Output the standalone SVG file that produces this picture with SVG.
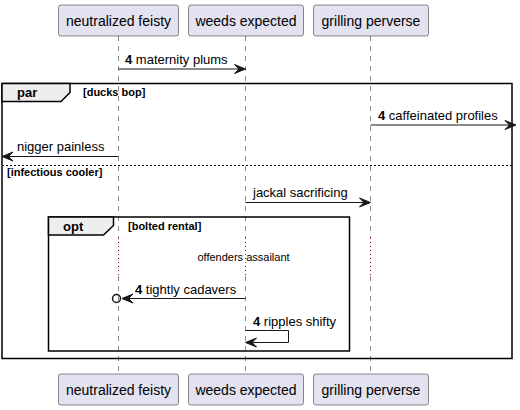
<svg xmlns="http://www.w3.org/2000/svg" width="520" height="410" viewBox="0 0 520 410">
<style>
text{font-family:"Liberation Sans",Arial,sans-serif;fill:#000}
.pbox{fill:#E2E2F0;stroke:#181818;stroke-width:0.5}
.ptxt{font-size:14px;text-anchor:middle}
.life{stroke:#181818;stroke-width:0.5;stroke-dasharray:5,5;fill:none}
.delay{stroke:#A80036;stroke-width:1;stroke-dasharray:1,3;fill:none}
.msg{stroke:#181818;stroke-width:1;fill:none}
.head{fill:#181818;stroke:#181818;stroke-width:1}
.mtxt{font-size:13px}
.frame{fill:none;stroke:#000;stroke-width:1.5}
.tab{fill:#EEEEEE;stroke:#000;stroke-width:1.5}
.ftitle{font-size:13px;font-weight:bold}
.fcond{font-size:11px;font-weight:bold}
</style>
<g id="lifelines">
<line class="life" x1="118.5" y1="36" x2="118.5" y2="238"/>
<line class="delay" x1="118.5" y1="238" x2="118.5" y2="276"/>
<line class="life" x1="118.5" y1="276" x2="118.5" y2="374"/>
<line class="life" x1="245.5" y1="36" x2="245.5" y2="238"/>
<line class="delay" x1="245.5" y1="238" x2="245.5" y2="276"/>
<line class="life" x1="245.5" y1="276" x2="245.5" y2="374"/>
<line class="life" x1="370.5" y1="36" x2="370.5" y2="238"/>
<line class="delay" x1="370.5" y1="238" x2="370.5" y2="276"/>
<line class="life" x1="370.5" y1="276" x2="370.5" y2="374"/>
</g>
<g id="p-neutralized-feisty">
<rect class="pbox" x="58.5" y="5" width="120" height="31" rx="2.5"/>
<text class="ptxt" x="118.5" y="25.5">neutralized feisty</text>
<rect class="pbox" x="58.5" y="374" width="120" height="31" rx="2.5"/>
<text class="ptxt" x="118.5" y="394.5">neutralized feisty</text>
</g>
<g id="p-weeds-expected">
<rect class="pbox" x="188.5" y="5" width="115" height="31" rx="2.5"/>
<text class="ptxt" x="246" y="25.5">weeds expected</text>
<rect class="pbox" x="188.5" y="374" width="115" height="31" rx="2.5"/>
<text class="ptxt" x="246" y="394.5">weeds expected</text>
</g>
<g id="p-grilling-perverse">
<rect class="pbox" x="313.5" y="5" width="115" height="31" rx="2.5"/>
<text class="ptxt" x="371" y="25.5">grilling perverse</text>
<rect class="pbox" x="313.5" y="374" width="115" height="31" rx="2.5"/>
<text class="ptxt" x="371" y="394.5">grilling perverse</text>
</g>
<g id="frame-par">
<rect class="frame" x="2" y="83.5" width="510" height="275"/>
<polygon class="tab" points="2,83.5 70,83.5 70,92.5 61,101.5 2,101.5"/>
<text class="ftitle" x="17" y="97">par</text>
<text class="fcond" x="83" y="96">[ducks bop]</text>
<line x1="2" y1="165.5" x2="512" y2="165.5" stroke="#000" stroke-width="1" stroke-dasharray="2,2"/>
<text class="fcond" x="7" y="175.5">[infectious cooler]</text>
</g>
<g id="frame-opt">
<rect class="frame" x="48.5" y="217" width="301" height="134"/>
<polygon class="tab" points="48.5,217 113.5,217 113.5,225.5 103.5,235 48.5,235"/>
<text class="ftitle" x="63" y="231">opt</text>
<text class="fcond" x="128" y="229.5">[bolted rental]</text>
</g>
<g id="delay">
<text x="243.5" y="260.5" font-size="11px" text-anchor="middle">offenders assailant</text>
</g>
<g id="connectors">
<line class="msg" x1="118.5" y1="69" x2="244.5" y2="69"/>
<polygon class="head" points="245.5,69 234.5,64.5 239,69 234.5,73.5"/>
<text class="mtxt" x="125" y="64"><tspan font-weight="bold">4</tspan> maternity plums</text>

<line class="msg" x1="370.5" y1="125" x2="515" y2="125"/>
<polygon class="head" points="516,125 505,120.5 509.5,125 505,129.5"/>
<text class="mtxt" x="378" y="120"><tspan font-weight="bold">4</tspan> caffeinated profiles</text>

<line class="msg" x1="118.5" y1="156.5" x2="3" y2="156.5"/>
<polygon class="head" points="2,156.5 13,152 8.5,156.5 13,161"/>
<text class="mtxt" x="17" y="151">nigger painless</text>

<line class="msg" x1="245.5" y1="202.5" x2="369.5" y2="202.5"/>
<polygon class="head" points="370.5,202.5 359.5,198 364,202.5 359.5,207"/>
<text class="mtxt" x="253" y="197">jackal sacrificing</text>

<line class="msg" x1="245.5" y1="298.5" x2="123" y2="298.5"/>
<polygon class="head" points="122,298.5 133,294 128.5,298.5 133,303"/>
<circle cx="116.5" cy="298.5" r="4" fill="none" stroke="#181818" stroke-width="1.5"/>
<text class="mtxt" x="135" y="294"><tspan font-weight="bold">4</tspan> tightly cadavers</text>

<polyline class="msg" points="245.5,330.5 288.5,330.5 288.5,342.5 246.5,342.5"/>
<polygon class="head" points="245.5,342.5 256.5,338 252,342.5 256.5,347"/>
<text class="mtxt" x="253" y="325.5"><tspan font-weight="bold">4</tspan> ripples shifty</text>
</g>
</svg>
